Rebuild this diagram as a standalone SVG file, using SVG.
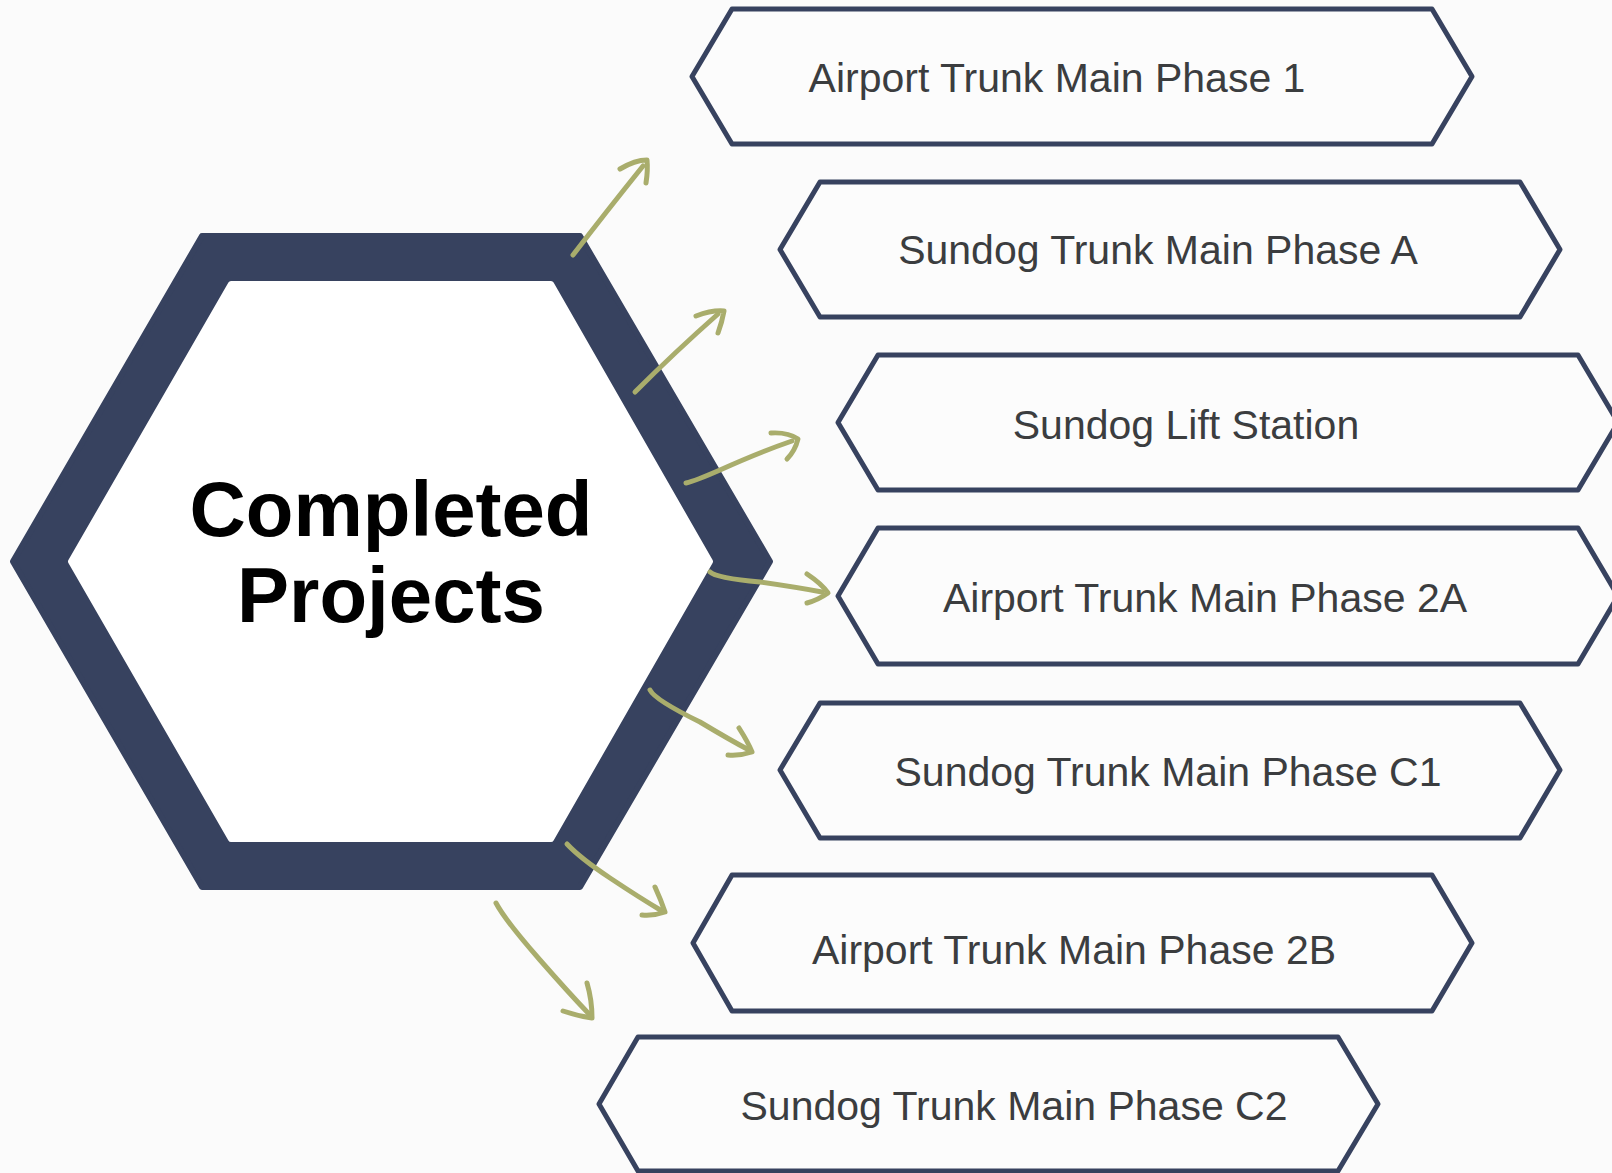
<svg xmlns="http://www.w3.org/2000/svg" width="1612" height="1173" viewBox="0 0 1612 1173">
  <style>
    .bg { fill: #fbfbfb; }
    .box { fill: #fcfcfc; stroke: #37425f; stroke-width: 5; stroke-linejoin: round; }
    .label { font-family: "Liberation Sans", Arial, sans-serif; font-size: 41px; fill: #3b3d3f; text-anchor: middle; }
    .title { font-family: "Liberation Sans", Arial, sans-serif; font-weight: bold; font-size: 78px; fill: #000; text-anchor: middle; }
    .arrow { fill: none; stroke: #a9ad6c; stroke-width: 5; stroke-linecap: round; stroke-linejoin: round; }
  </style>

  <rect class="bg" x="0" y="0" width="1612" height="1173"/>

  <!-- central hexagon -->
  <g id="hub">
    <polygon points="13,561.5 202,236 580,236 770,561.5 580,887 202,887" fill="#37425f" stroke="#37425f" stroke-width="6" stroke-linejoin="round"/>
    <polygon points="71,561.5 231,284 551,284 710,561.5 551,839 231,839" fill="#ffffff" stroke="#ffffff" stroke-width="6" stroke-linejoin="round"/>
    <text class="title" x="391" y="536">Completed</text>
    <text class="title" x="391" y="622">Projects</text>
  </g>

  <!-- project boxes -->
  <g id="box-atm1">
    <polygon class="box" points="692,76.5 732,9 1432,9 1472,76.5 1432,144 732,144"/>
    <text class="label" x="1057" y="92">Airport Trunk Main Phase 1</text>
  </g>
  <g id="box-stma">
    <polygon class="box" points="780,249.5 820,182 1520,182 1560,249.5 1520,317 820,317"/>
    <text class="label" x="1158" y="264">Sundog Trunk Main Phase A</text>
  </g>
  <g id="box-sls">
    <polygon class="box" points="838,422.5 878,355 1578,355 1618,422.5 1578,490 878,490"/>
    <text class="label" x="1186" y="439">Sundog Lift Station</text>
  </g>
  <g id="box-atm2a">
    <polygon class="box" points="838,596 878,528 1578,528 1618,596 1578,664 878,664"/>
    <text class="label" x="1205" y="612">Airport Trunk Main Phase 2A</text>
  </g>
  <g id="box-stmc1">
    <polygon class="box" points="780,770 820,703 1520,703 1560,770 1520,838 820,838"/>
    <text class="label" x="1168" y="786">Sundog Trunk Main Phase C1</text>
  </g>
  <g id="box-atm2b">
    <polygon class="box" points="693,943 732,875 1432,875 1472,943 1432,1011 732,1011"/>
    <text class="label" x="1074" y="964">Airport Trunk Main Phase 2B</text>
  </g>
  <g id="box-stmc2">
    <polygon class="box" points="599,1104 638,1037 1338,1037 1378,1104 1338,1171 638,1171"/>
    <text class="label" x="1014" y="1120">Sundog Trunk Main Phase C2</text>
  </g>

  <!-- hand-drawn connectors -->
  <g id="connectors">
    <path class="arrow" d="M573,255 Q606,212 643,166"/>
    <path class="arrow" d="M620,169 Q635,160 647,160 Q648,170 646,183"/>

    <path class="arrow" d="M635,392 Q675,352 718,314"/>
    <path class="arrow" d="M696,316 Q712,310 724,311 Q722,322 718,333"/>

    <path class="arrow" d="M686,483 Q695,481 720,470 Q760,452 792,441"/>
    <path class="arrow" d="M771,433 Q788,432 798,439 Q795,451 787,459"/>

    <path class="arrow" d="M710,572 Q716,578 760,582 Q795,587 822,592"/>
    <path class="arrow" d="M807,574 Q822,584 828,593 Q818,600 807,603"/>

    <path class="arrow" d="M650,690 Q655,700 700,722 Q730,740 749,750"/>
    <path class="arrow" d="M739,728 Q748,742 752,752 Q740,756 728,755"/>

    <path class="arrow" d="M567,844 Q580,858 610,878 Q640,898 662,911"/>
    <path class="arrow" d="M655,887 Q661,900 665,912 Q654,916 642,915"/>

    <path class="arrow" d="M496,903 Q505,920 540,960 Q568,992 589,1014"/>
    <path class="arrow" d="M587,983 Q592,1000 592,1018 Q578,1016 563,1011"/>
  </g>
</svg>
